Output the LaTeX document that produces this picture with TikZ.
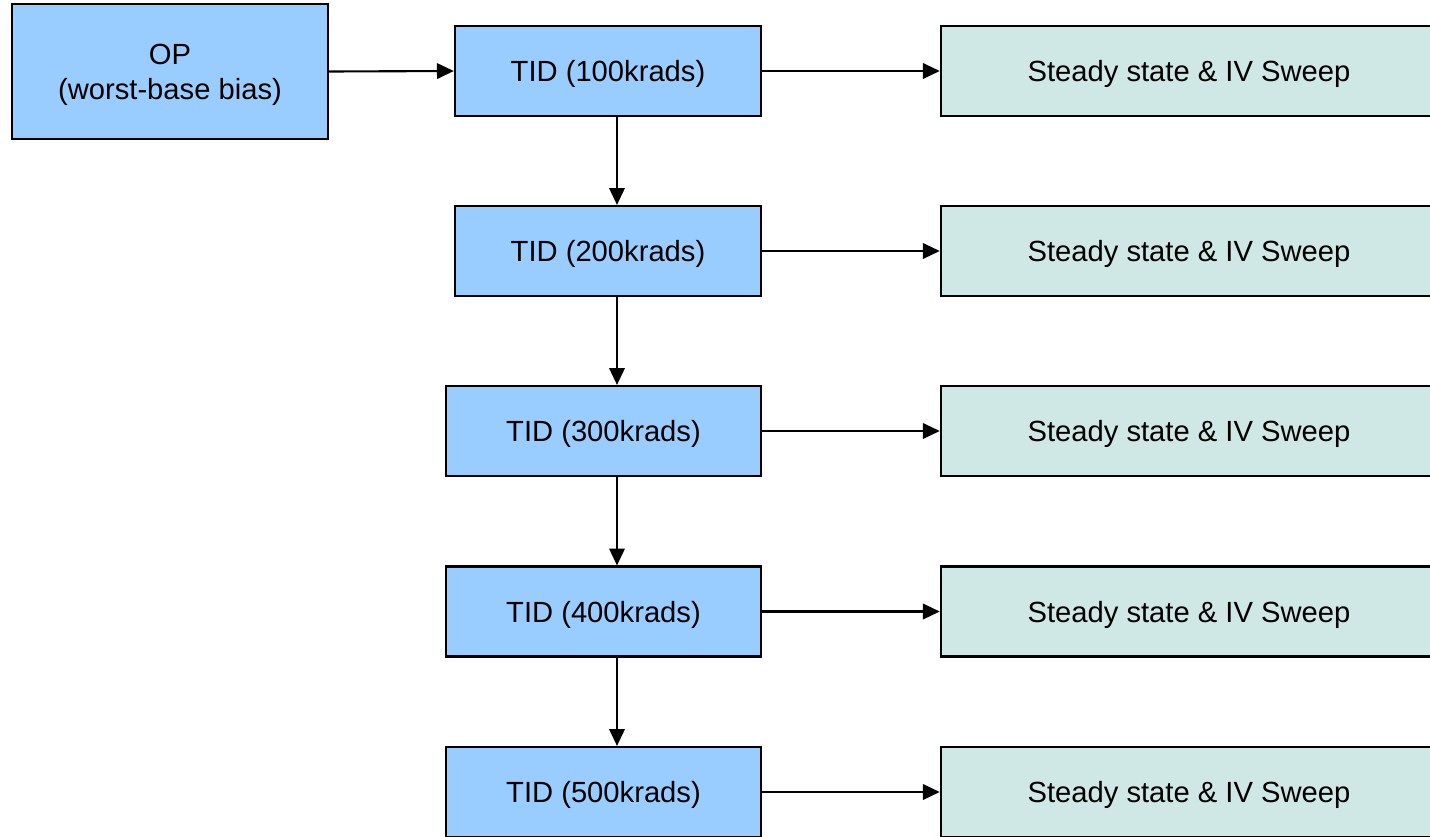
\documentclass[tikz,border=0pt]{standalone}
\usepackage{fontspec}
\setmainfont{Liberation Sans}
\usetikzlibrary{arrows.meta}
\definecolor{tidblue}{HTML}{99CCFF}
\definecolor{sweepgreen}{HTML}{CFE7E5}

\begin{document}
\begin{tikzpicture}[x=0.01cm, y=-0.01cm,
		box/.style={draw=black, line width=0.6pt, inner sep=0pt, minimum height=0.9cm, align=center, font=\fontsize{8.3}{10}\selectfont},
		tid/.style={box, fill=tidblue, text height=7.75pt, text depth=1.75pt},
		sweep/.style={box, fill=sweepgreen, minimum width=4.96cm, text height=7.75pt, text depth=1.75pt},
		flow/.style={-{Triangle[length=4.8pt,width=4.4pt]}, line width=0.6pt}]
		%%%%% START %%%%%
		
		\useasboundingbox (0, 0) rectangle (1430, 836);
		\clip (0, 0) rectangle (1430, 836);
		
		\node[box, fill=tidblue, minimum width=3.16cm, minimum height=1.35cm, text depth=0pt] (op) at (170, 71.5) {OP\\(worst-base bias)};
		
		\node[tid, minimum width=3.06cm] (tid1) at (608, 71) {TID (100krads)};
		\node[tid, minimum width=3.06cm] (tid2) at (608, 251) {TID (200krads)};
		\node[tid, minimum width=3.15cm] (tid3) at (603.5, 431) {TID (300krads)};
		\node[tid, minimum width=3.15cm] (tid4) at (603.5, 611.5) {TID (400krads)};
		\node[tid, minimum width=3.15cm] (tid5) at (603.5, 792) {TID (500krads)};
		
		\node[sweep] (iv1) at (1189, 71) {Steady state \& IV Sweep};
		\node[sweep] (iv2) at (1189, 251) {Steady state \& IV Sweep};
		\node[sweep] (iv3) at (1189, 431) {Steady state \& IV Sweep};
		\node[sweep] (iv4) at (1189, 611.5) {Steady state \& IV Sweep};
		\node[sweep] (iv5) at (1189, 792) {Steady state \& IV Sweep};
		
		\coordinate (down) at (617, 0);
		
		\draw[flow] (op.east) -- (tid1.west);
		
		\draw[flow] (tid1.south -| down) -- (tid2.north -| down);
		\draw[flow] (tid2.south -| down) -- (tid3.north -| down);
		\draw[flow] (tid3.south -| down) -- (tid4.north -| down);
		\draw[flow] (tid4.south -| down) -- (tid5.north -| down);
		
		\draw[flow] (tid1.east) -- (iv1.west);
		\draw[flow] (tid2.east) -- (iv2.west);
		\draw[flow] (tid3.east) -- (iv3.west);
		\draw[flow] (tid4.east) -- (iv4.west);
		\draw[flow] (tid5.east) -- (iv5.west);
		
		%%%%% END %%%%%
	\end{tikzpicture}
\end{document}
